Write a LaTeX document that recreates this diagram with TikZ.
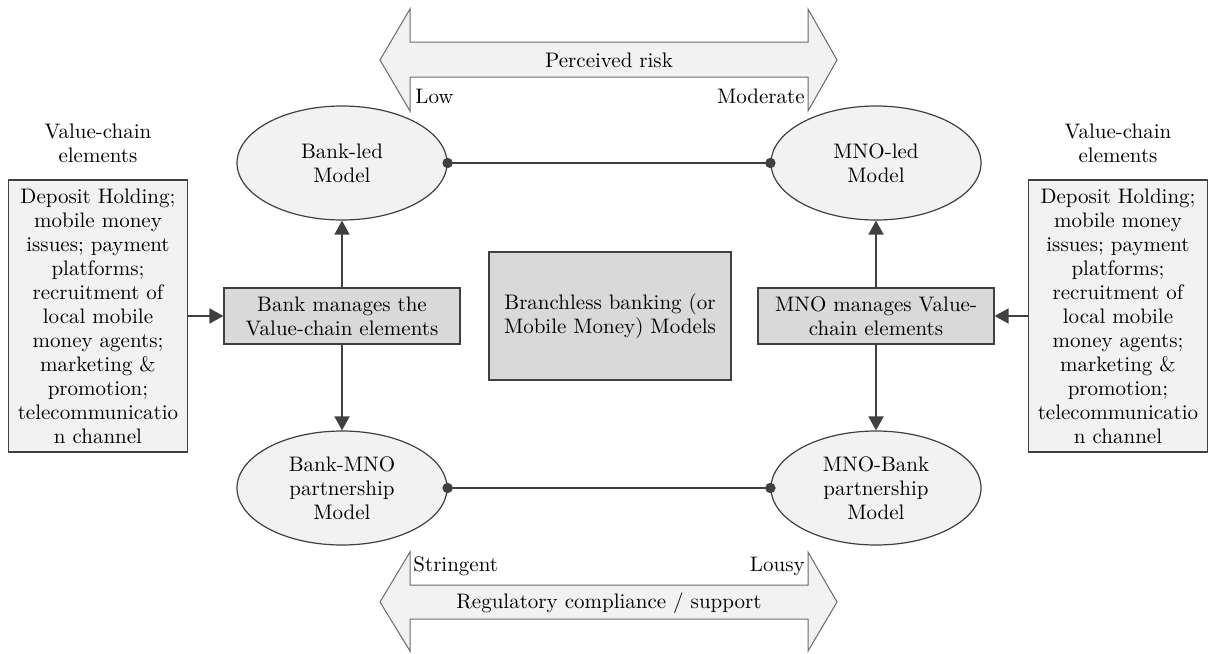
\documentclass[tikz,border=0pt]{standalone}
\usetikzlibrary{arrows.meta,shapes.geometric}
\definecolor{lc}{HTML}{404040}
\definecolor{lfill}{HTML}{F2F2F2}
\definecolor{dfill}{HTML}{D9D9D9}
\definecolor{ac}{HTML}{6A6A6A}
\begin{document}
\begin{tikzpicture}[x=0.5pt,y=-0.5pt,
  font=\fontsize{10.5}{12}\selectfont,
  model/.style={ellipse,draw=lc,line width=0.6pt,fill=lfill,minimum width=105pt,minimum height=57pt,align=center,inner sep=0pt},
  mgr/.style={draw=lc,line width=0.6pt,fill=dfill,minimum width=118pt,minimum height=28pt,align=center,inner sep=1pt},
  elems/.style={draw=lc,line width=0.6pt,fill=lfill,minimum width=89.5pt,minimum height=136pt,align=center,inner sep=1pt},
  conn/.style={draw=lc,line width=0.9pt,-{Triangle[length=7pt,width=7.5pt]}},
  link/.style={draw=lc,line width=0.7pt},
  bigarrow/.style={draw=ac,line width=0.5pt,fill=lfill},
  lbl/.style={inner sep=0pt,align=center}]
\useasboundingbox (0,0) rectangle (1208,653);
% big double arrows
\path[bigarrow] (380,60) -- (410,9) -- (410,42) -- (808,42) -- (808,9) -- (837,60) -- (808,111) -- (808,77) -- (410,77) -- (410,111) -- cycle;
\path[bigarrow] (380,602) -- (410,552) -- (410,585) -- (808,585) -- (808,552) -- (837,602) -- (808,651) -- (808,619) -- (410,619) -- (410,651) -- cycle;
\node[lbl] (pr) at (609,60) {Perceived risk};
\node[lbl,anchor=west] (low) at (415,96) {Low};
\node[lbl,anchor=east] (mod) at (805,96) {Moderate};
\node[lbl] (rc) at (609,603) {Regulatory compliance / support};
\node[lbl,anchor=west] (str) at (413,566) {Stringent};
\node[lbl,anchor=east] (lou) at (805,566) {Lousy};
% models
\node[model] (bl) at (342,163) {Bank-led\\Model};
\node[model] (ml) at (876,163) {MNO-led\\Model};
\node[model] (bm) at (342,488) {Bank-MNO\\partnership\\Model};
\node[model] (mb) at (876,488) {MNO-Bank\\partnership\\Model};
% managers
\node[mgr] (bmg) at (342,316) {Bank manages the\\Value-chain elements};
\node[mgr] (mmg) at (876,316) {MNO manages Value-\\chain elements};
\node[mgr,minimum width=121pt,minimum height=64pt] (ctr) at (610,316) {Branchless banking (or\\Mobile Money) Models};
% element boxes
\node[elems] (le) at (98,316) {Deposit Holding;\\mobile money\\issues; payment\\platforms;\\recruitment of\\local mobile\\money agents;\\marketing \&\\promotion;\\telecommunicatio\\n channel};
\node[elems] (re) at (1118,316) {Deposit Holding;\\mobile money\\issues; payment\\platforms;\\recruitment of\\local mobile\\money agents;\\marketing \&\\promotion;\\telecommunicatio\\n channel};
\node[lbl] (lt) at (98,143) {Value-chain\\elements};
\node[lbl] (rt) at (1118,143) {Value-chain\\elements};
% connectors
\draw[conn] (le.east) -- (bmg.west);
\draw[conn] (re.west) -- (mmg.east);
\draw[conn] (bmg.north) -- (bl.south);
\draw[conn] (bmg.south) -- (bm.north);
\draw[conn] (mmg.north) -- (ml.south);
\draw[conn] (mmg.south) -- (mb.north);
\draw[link] (bl.east) -- (ml.west);
\draw[link] (bm.east) -- (mb.west);
\fill[lc] (bl.east) circle (2.6pt) (ml.west) circle (2.6pt) (bm.east) circle (2.6pt) (mb.west) circle (2.6pt);
\end{tikzpicture}
\end{document}
